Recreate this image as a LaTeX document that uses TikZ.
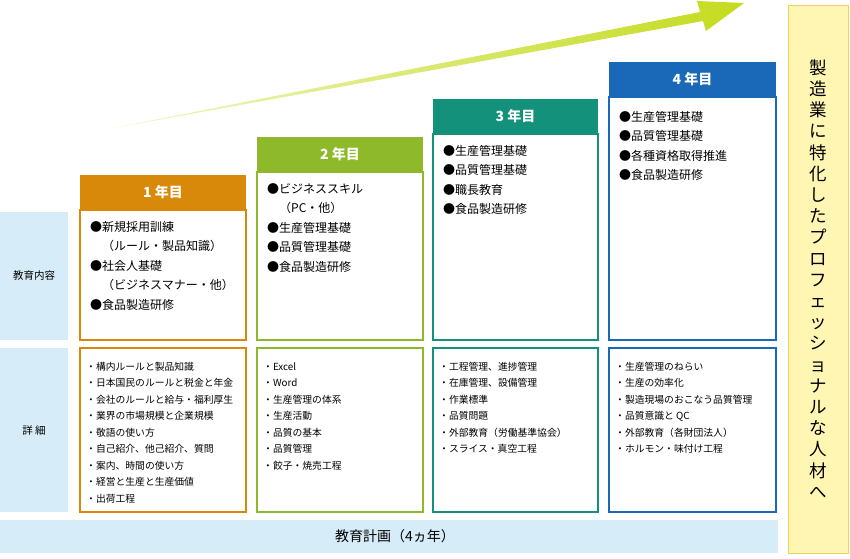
\documentclass[tikz,border=0pt]{standalone}
\usepackage{fontspec}
\setmainfont{Noto Sans CJK JP}
\usetikzlibrary{positioning}
\definecolor{bandblue}{HTML}{D6ECF8}
\definecolor{yone}{HTML}{D9890A}
\definecolor{ytwo}{HTML}{8DB92B}
\definecolor{ythree}{HTML}{14917A}
\definecolor{yfour}{HTML}{1A68B8}
\definecolor{goalfill}{HTML}{FFF6B4}
\definecolor{goalline}{HTML}{F0D060}
\definecolor{arrowgreen}{HTML}{C4DB1E}
\tikzset{
  band/.style={fill=bandblue, draw=none},
  head/.style={text=white, font=\fontsize{14}{14}\selectfont\bfseries},
  plan/.style={anchor=north west, align=left, font=\fontsize{12}{19.5}\selectfont, inner sep=0pt},
  detail/.style={anchor=north west, align=left, font=\fontsize{9.8}{16.5}\selectfont, inner sep=0pt},
}
\begin{document}
\begin{tikzpicture}[x=1pt,y=-1pt]
	\useasboundingbox (0,0) rectangle (850,558);
	% Pfeil
	\shade[left color=arrowgreen!25, right color=arrowgreen]
		(108,129) -- (700,12) -- (697,1) -- (744,3) -- (706,31) -- (703,21) -- cycle;
	% Linke Spalte
	\fill[band] (0,212) rectangle (68,340);
	\node (inhalt) at (34,276) {\fontsize{10.5}{10.5}\selectfont 教育内容};
	\fill[band] (0,348) rectangle (68,512);
	\node (detail) at (34,430) {\fontsize{10.5}{10.5}\selectfont 詳 細};
	\fill[band] (0,520) rectangle (778,553);
	\node (plan) at (395,536) {\fontsize{14}{14}\selectfont 教育計画（4ヵ年）};
	% Ziel
	\draw[goalline, fill=goalfill, line width=1pt] (788,5) rectangle (848,553);
	\node[align=center, font=\fontsize{17.5}{21.2}\selectfont, anchor=north] (goal) at (818,56)
		{製\\造\\業\\に\\特\\化\\し\\た\\プ\\ロ\\フ\\ェ\\ッ\\シ\\ョ\\ナ\\ル\\な\\人\\材\\へ};
	% 1. Jahr
	\begin{scope}
		\fill[yone] (80,175) rectangle (246,210);
		\node[head] (h1) at (163,192.5) {1 年目};
		\draw[yone, line width=1.6pt] (80,210) rectangle (246,340);
		\draw[yone, line width=1.6pt] (80,348) rectangle (246,512);
		\node[plan] (p1) at (90,221) {●新規採用訓練\\　（ルール・製品知識）\\●社会人基礎\\　（ビジネスマナー・他）\\●食品製造研修};
		\node[detail] (d1) at (86,362) {・構内ルールと製品知識\\・日本国民のルールと税金と年金\\・会社のルールと給与・福利厚生\\・業界の市場規模と企業規模\\・敬語の使い方\\・自己紹介、他己紹介、質問\\・案内、時間の使い方\\・経営と生産と生産価値\\・出荷工程};
	\end{scope}
	% 2. Jahr
	\begin{scope}
		\fill[ytwo] (257,137) rectangle (423,172);
		\node[head] (h2) at (340,154.5) {2 年目};
		\draw[ytwo, line width=1.6pt] (257,172) rectangle (423,340);
		\draw[ytwo, line width=1.6pt] (257,348) rectangle (423,512);
		\node[plan] (p2) at (267,183) {●ビジネススキル\\　（PC・他）\\●生産管理基礎\\●品質管理基礎\\●食品製造研修};
		\node[detail] (d2) at (263,362) {・Excel\\・Word\\・生産管理の体系\\・生産活動\\・品質の基本\\・品質管理\\・餃子・焼売工程};
	\end{scope}
	% 3. Jahr
	\begin{scope}
		\fill[ythree] (433,99) rectangle (598,134);
		\node[head] (h3) at (515.5,116.5) {3 年目};
		\draw[ythree, line width=1.6pt] (433,134) rectangle (598,340);
		\draw[ythree, line width=1.6pt] (433,348) rectangle (598,512);
		\node[plan] (p3) at (443,145) {●生産管理基礎\\●品質管理基礎\\●職長教育\\●食品製造研修};
		\node[detail] (d3) at (439,362) {・工程管理、進捗管理\\・在庫管理、設備管理\\・作業標準\\・品質問題\\・外部教育（労働基準協会）\\・スライス・真空工程};
	\end{scope}
	% 4. Jahr
	\begin{scope}
		\fill[yfour] (609,62) rectangle (776,97);
		\node[head] (h4) at (692.5,79.5) {4 年目};
		\draw[yfour, line width=1.6pt] (609,97) rectangle (776,340);
		\draw[yfour, line width=1.6pt] (609,348) rectangle (776,512);
		\node[plan] (p4) at (619,111) {●生産管理基礎\\●品質管理基礎\\●各種資格取得推進\\●食品製造研修};
		\node[detail] (d4) at (615,362) {・生産管理のねらい\\・生産の効率化\\・製造現場のおこなう品質管理\\・品質意識と QC\\・外部教育（各財団法人）\\・ホルモン・味付け工程};
	\end{scope}
\end{tikzpicture}
\end{document}
